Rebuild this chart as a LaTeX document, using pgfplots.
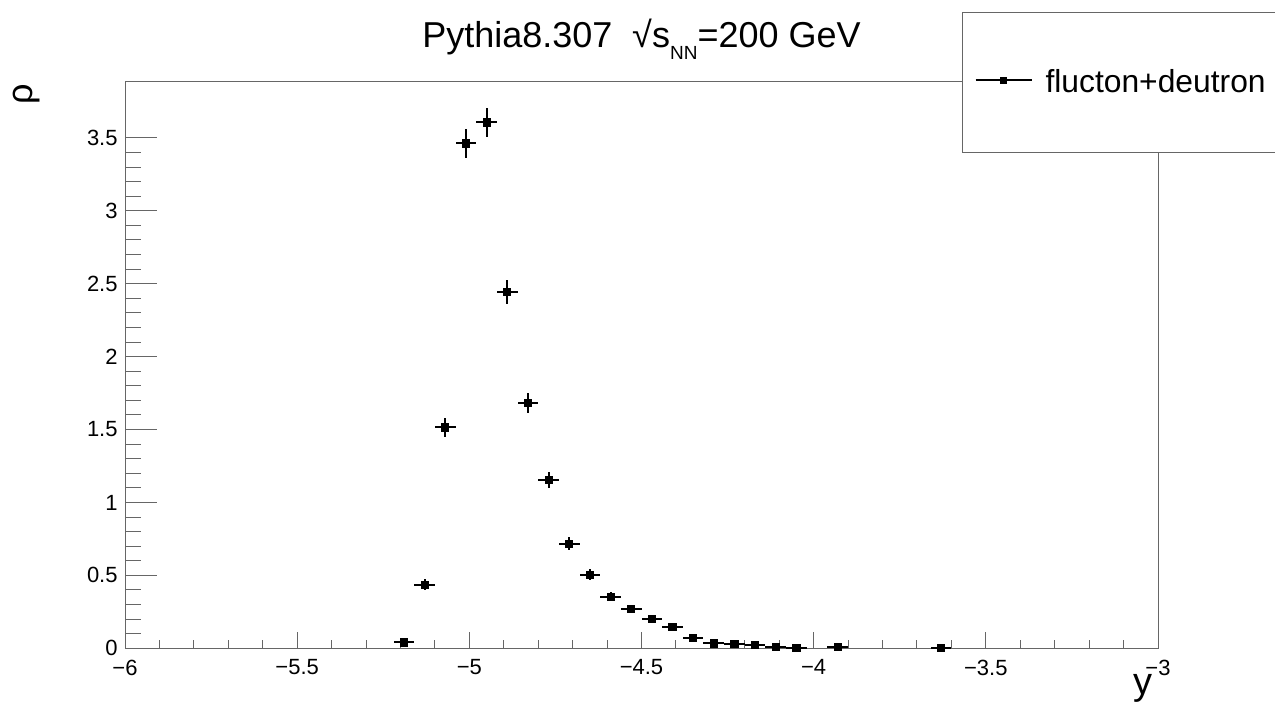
\documentclass[border=0pt]{standalone}
\usepackage{fontspec}
\setmainfont{Liberation Sans}
\usepackage{pgfplots}
\pgfplotsset{compat=1.18}
\usepackage{pgfplotstable}

\pgfplotstableread{
x y ex ey
-5.19 0.040 0.03 0.011
-5.13 0.437 0.03 0.035
-5.07 1.515 0.03 0.065
-5.01 3.462 0.03 0.098
-4.95 3.606 0.03 0.100
-4.89 2.445 0.03 0.083
-4.83 1.683 0.03 0.069
-4.77 1.154 0.03 0.057
-4.71 0.718 0.03 0.045
-4.65 0.505 0.03 0.038
-4.59 0.352 0.03 0.031
-4.53 0.272 0.03 0.028
-4.47 0.201 0.03 0.024
-4.41 0.148 0.03 0.020
-4.35 0.069 0.03 0.014
-4.29 0.034 0.03 0.010
-4.23 0.030 0.03 0.009
-4.17 0.023 0.03 0.008
-4.11 0.007 0.03 0.004
-4.05 0.005 0.03 0.004
-3.93 0.009 0.03 0.005
-3.63 0.003 0.03 0.003
}\datatable

\begin{document}
\begin{tikzpicture}
\useasboundingbox (0,0) rectangle (637.5pt,351pt);
\begin{axis}[
  at={(62.5pt,26.85pt)}, anchor=south west,
  scale only axis, width=516.5pt, height=283.3pt,
  xmin=-6, xmax=-3, ymin=0, ymax=3.885,
  clip=false,
  axis line style={black!60, line width=0.5pt},
  tick pos=left,
  xtick={-6,-5.5,-5,-4.5,-4,-3.5,-3},
  xticklabels={−6,−5.5,−5,−4.5,−4,−3.5,−3},
  ytick={0,0.5,1,1.5,2,2.5,3,3.5},
  yticklabels={0,0.5,1,1.5,2,2.5,3,3.5},
  minor x tick num=4, minor y tick num=4,
  xtick style={black!60, line width=0.5pt, /pgfplots/major tick length=8.3pt, /pgfplots/minor tick length=4.2pt},
  ytick style={black!60, line width=0.5pt, /pgfplots/major tick length=15.8pt, /pgfplots/minor tick length=8pt},
  tick label style={font=\fontsize{11}{13}\selectfont},
  xticklabel style={inner sep=0pt, anchor=north, yshift=-5.5pt},
  yticklabel style={inner sep=0pt, anchor=east, xshift=-3.5pt},
  title={Pythia8.307\hspace{0.55em}√s\raisebox{-6pt}{\fontsize{9.5}{10}\selectfont NN}=200 GeV},
  title style={at={(axis description cs:0.5,1)}, anchor=base, yshift=10.85pt, font=\fontsize{18}{20}\selectfont, inner sep=0pt},
  xlabel={y},
  xlabel style={at={(axis description cs:1,0)}, anchor=base east, inner sep=0pt, yshift=-23pt, xshift=-2.5pt, font=\fontsize{19}{21}\selectfont},
  ylabel={ρ},
  ylabel style={at={(axis description cs:-0.0949,0.9853)}, anchor=center, inner sep=0pt, yshift=0pt, xshift=-2pt, font=\fontsize{18}{20}\selectfont},
  legend style={at={(axis description cs:0.8103,1.1235)}, anchor=north west, draw=black!60, line width=0.5pt, fill=white, inner xsep=6pt, inner ysep=28.6pt, font=\fontsize{15.9}{18}\selectfont, nodes={inner sep=0pt}, cells={anchor=west}},
]
\addplot[only marks, black, mark=square*, mark size=1.8pt, mark options={line width=0.4pt, solid, fill=black},
  legend image code/.code={\draw[sharp plot, black, line width=1pt, mark repeat=2, mark phase=2, mark size=1.55pt, mark options={line width=0.4pt, fill=black}, yshift=1.2pt] plot coordinates {(0pt,0pt) (14pt,0pt) (28pt,0pt)};},
  error bars/.cd, x dir=both, x explicit, y dir=both, y explicit, error mark=none,
  error bar style={line width=1pt, black}]
  table[x=x, y=y, x error=ex, y error=ey] {\datatable};
\addlegendentry{\hspace{6.5pt}flucton+deutron\hspace{20pt}}
\end{axis}
\end{tikzpicture}
\end{document}
